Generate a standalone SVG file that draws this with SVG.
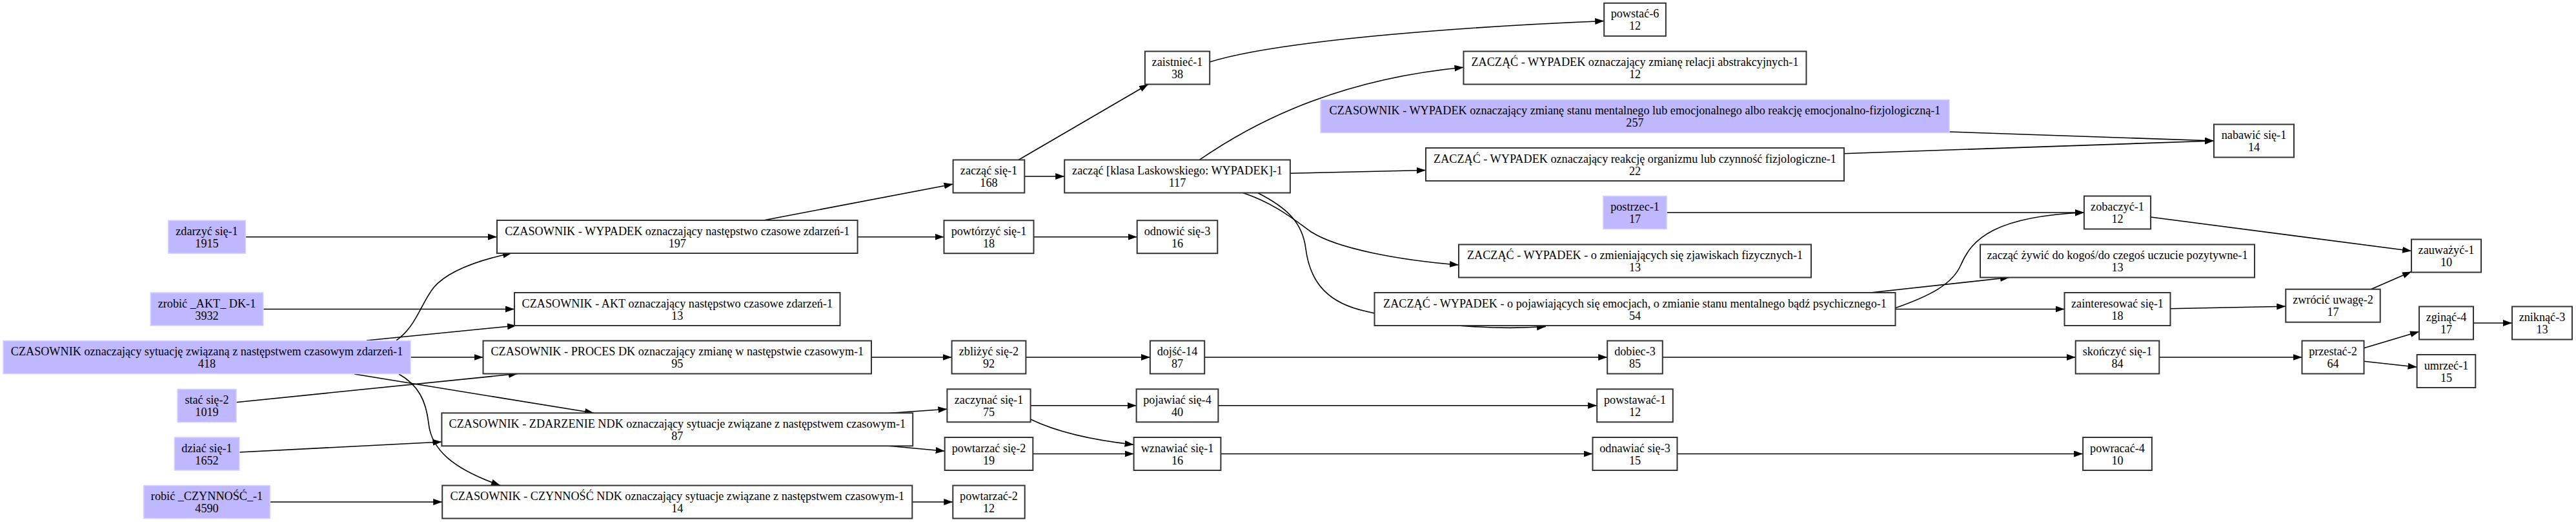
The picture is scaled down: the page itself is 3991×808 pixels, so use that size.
<svg xmlns="http://www.w3.org/2000/svg" width="3991" height="808" viewBox="0 0 3991 808">
<style>
.b{fill:#fff;stroke:#333;stroke-width:2}
.p{fill:#c0b8fe;stroke:#d8d2ff;stroke-width:1.5}
text{font-family:"Liberation Serif","Times New Roman",serif;font-size:18.2px;text-anchor:middle;fill:#000}
.e path{fill:none;stroke:#000;stroke-width:1.6;marker-end:url(#a)}
</style>
<defs>
<marker id="a" markerUnits="userSpaceOnUse" markerWidth="15" markerHeight="11" refX="14" refY="5" orient="auto">
<path d="M0,0 L14,5 L0,10 z" fill="#000"/>
</marker>
</defs>
<rect width="3991" height="808" fill="#fff"/>
<g class="e" id="connectors">
<path d="M380.3,366.7 H770"/>
<path d="M407.8,478.5 H797"/>
<path d="M614,527 C645,505 652,470 672,445 C695,418 745,402 793,391.7"/>
<path d="M568,527 L800,504"/>
<path d="M366,622.7 L802,578.5"/>
<path d="M636,553 H748.5"/>
<path d="M549,579 L920,639.3"/>
<path d="M370.8,700 L684.4,684"/>
<path d="M618,579 C648,596 660,620 664,655 C668,695 700,725 775,751.3"/>
<path d="M418.3,777 H685.2"/>
<path d="M1183,341 L1476.6,285"/>
<path d="M1328.6,366.7 H1462.5"/>
<path d="M1601.5,366.7 H1761.7"/>
<path d="M1578,247.5 L1779,130.5"/>
<path d="M1587.4,273 H1649.2"/>
<path d="M1874,96 C1990,60 2300,40 2485.2,32.5"/>
<path d="M1858,247.7 C1920,205 2050,125 2267.5,104.3"/>
<path d="M1998.9,268.3 L2208.9,263.5"/>
<path d="M1925,298.3 C1975,315 2005,340 2030,358 C2070,385 2170,403 2260,410"/>
<path d="M1948,298.3 C1995,322 2018,345 2023,385 C2030,440 2060,470 2117,482 C2190,500 2300,512 2395,505.5"/>
<path d="M2856.7,237.7 L3430,218"/>
<path d="M3019.7,204 L3430,218"/>
<path d="M2582.2,329 H3228.9"/>
<path d="M2936.5,476.7 C2990,458 3025,440 3038,410 C3055,370 3090,335 3228.9,329"/>
<path d="M2897.5,453 L3113,429.5"/>
<path d="M2936.5,478.5 H3198.5"/>
<path d="M3332,336 L3736,388.5"/>
<path d="M3362.5,477.7 L3541.3,474.3"/>
<path d="M3674,447.5 L3736,420.5"/>
<path d="M1350,553 H1474.6"/>
<path d="M1589.4,553 H1781.9"/>
<path d="M1866.2,553 H2490.2"/>
<path d="M2575.8,553 H3215.7"/>
<path d="M3345.3,553 H3566.5"/>
<path d="M3662.5,538.7 L3748,513.3"/>
<path d="M3662.5,559.3 L3744.6,568.3"/>
<path d="M3832,500 H3892"/>
<path d="M1377,639.5 L1467.4,633.3"/>
<path d="M1377,690.3 L1463.7,698.3"/>
<path d="M1596.6,627.8 H1760.6"/>
<path d="M1596.6,649 C1640,670 1700,682 1756.6,688.3"/>
<path d="M1600.3,702.5 H1756.6"/>
<path d="M1887.4,627.8 H2474.2"/>
<path d="M1891.4,702.5 H2467.5"/>
<path d="M2598.5,702.5 H3227.1"/>
<path d="M1413.4,777 H1476.3"/>
</g>
<g id="n_root"><rect class="p" x="5" y="527.5" width="631" height="51"/><text x="320.5" y="550">CZASOWNIK oznaczający sytuację związaną z następstwem czasowym zdarzeń-1</text><text x="320.5" y="569">418</text></g>
<g id="n_zdarzyc"><rect class="p" x="260.8" y="341.2" width="119.5" height="51"/><text x="320.5" y="363.7">zdarzyć się-1</text><text x="320.5" y="382.7">1915</text></g>
<g id="n_zrobic"><rect class="p" x="233.2" y="453" width="174.6" height="51"/><text x="320.5" y="475.5">zrobić _AKT_ DK-1</text><text x="320.5" y="494.5">3932</text></g>
<g id="n_stac"><rect class="p" x="275" y="602.5" width="91" height="51"/><text x="320.5" y="625">stać się-2</text><text x="320.5" y="644">1019</text></g>
<g id="n_dziac"><rect class="p" x="270.3" y="677" width="100.5" height="51"/><text x="320.5" y="699.5">dziać się-1</text><text x="320.5" y="718.5">1652</text></g>
<g id="n_robic"><rect class="p" x="222.8" y="751.5" width="195.5" height="51"/><text x="320.5" y="774">robić _CZYNNOŚĆ_-1</text><text x="320.5" y="793">4590</text></g>
<g id="n_czwyp"><rect class="b" x="770" y="341" width="558.6" height="51"/><text x="1049.3" y="363.5">CZASOWNIK - WYPADEK oznaczający następstwo czasowe zdarzeń-1</text><text x="1049.3" y="382.5">197</text></g>
<g id="n_czakt"><rect class="b" x="797" y="453" width="504.5" height="51"/><text x="1049.3" y="475.5">CZASOWNIK - AKT oznaczający następstwo czasowe zdarzeń-1</text><text x="1049.3" y="494.5">13</text></g>
<g id="n_czproc"><rect class="b" x="748.5" y="527.5" width="601.5" height="51"/><text x="1049.3" y="550">CZASOWNIK - PROCES DK oznaczający zmianę w następstwie czasowym-1</text><text x="1049.3" y="569">95</text></g>
<g id="n_czzd"><rect class="b" x="684.4" y="639.3" width="729.8" height="51"/><text x="1049.3" y="661.8">CZASOWNIK - ZDARZENIE NDK oznaczający sytuacje związane z następstwem czasowym-1</text><text x="1049.3" y="680.8">87</text></g>
<g id="n_czczyn"><rect class="b" x="685.2" y="751.5" width="728.1" height="51"/><text x="1049.3" y="774">CZASOWNIK - CZYNNOŚĆ NDK oznaczający sytuacje związane z następstwem czasowym-1</text><text x="1049.3" y="793">14</text></g>
<g id="n_zaczac_sie"><rect class="b" x="1476.6" y="247.5" width="110.7" height="51"/><text x="1532" y="270">zacząć się-1</text><text x="1532" y="289">168</text></g>
<g id="n_powtorzyc"><rect class="b" x="1462.5" y="341.2" width="139" height="51"/><text x="1532" y="363.7">powtórzyć się-1</text><text x="1532" y="382.7">18</text></g>
<g id="n_zblizyc"><rect class="b" x="1474.6" y="527.5" width="114.8" height="51"/><text x="1532" y="550">zbliżyć się-2</text><text x="1532" y="569">92</text></g>
<g id="n_zaczynac"><rect class="b" x="1467.4" y="602.3" width="129.2" height="51"/><text x="1532" y="624.8">zaczynać się-1</text><text x="1532" y="643.8">75</text></g>
<g id="n_powtarzac_sie"><rect class="b" x="1463.7" y="677" width="136.6" height="51"/><text x="1532" y="699.5">powtarzać się-2</text><text x="1532" y="718.5">19</text></g>
<g id="n_powtarzac"><rect class="b" x="1476.3" y="751.5" width="111.4" height="51"/><text x="1532" y="774">powtarzać-2</text><text x="1532" y="793">12</text></g>
<g id="n_klasa"><rect class="b" x="1649.2" y="247.5" width="349.7" height="51"/><text x="1824" y="270">zacząć [klasa Laskowskiego: WYPADEK]-1</text><text x="1824" y="289">117</text></g>
<g id="n_zaistniec"><rect class="b" x="1773.9" y="79.5" width="100.3" height="51"/><text x="1824" y="102">zaistnieć-1</text><text x="1824" y="121">38</text></g>
<g id="n_odnowic"><rect class="b" x="1761.7" y="341.2" width="124.6" height="51"/><text x="1824" y="363.7">odnowić się-3</text><text x="1824" y="382.7">16</text></g>
<g id="n_dojsc"><rect class="b" x="1781.9" y="527.5" width="84.3" height="51"/><text x="1824" y="550">dojść-14</text><text x="1824" y="569">87</text></g>
<g id="n_pojawiac"><rect class="b" x="1760.6" y="602.3" width="126.8" height="51"/><text x="1824" y="624.8">pojawiać się-4</text><text x="1824" y="643.8">40</text></g>
<g id="n_wznawiac"><rect class="b" x="1756.6" y="677" width="134.8" height="51"/><text x="1824" y="699.5">wznawiać się-1</text><text x="1824" y="718.5">16</text></g>
<g id="n_powstac"><rect class="b" x="2485.2" y="4.8" width="95.7" height="51"/><text x="2533" y="27.3">powstać-6</text><text x="2533" y="46.3">12</text></g>
<g id="n_zabs"><rect class="b" x="2267.5" y="79.5" width="531" height="51"/><text x="2533" y="102">ZACZĄĆ - WYPADEK oznaczający zmianę relacji abstrakcyjnych-1</text><text x="2533" y="121">12</text></g>
<g id="n_mental"><rect class="p" x="2046" y="154.5" width="974" height="51"/><text x="2533" y="177">CZASOWNIK - WYPADEK oznaczający zmianę stanu mentalnego lub emocjonalnego albo reakcję emocjonalno-fizjologiczną-1</text><text x="2533" y="196">257</text></g>
<g id="n_zreak"><rect class="b" x="2209" y="229" width="648" height="51"/><text x="2533" y="251.5">ZACZĄĆ - WYPADEK oznaczający reakcję organizmu lub czynność fizjologiczne-1</text><text x="2533" y="270.5">22</text></g>
<g id="n_postrzec"><rect class="p" x="2483.9" y="303.5" width="98.3" height="51"/><text x="2533" y="326">postrzec-1</text><text x="2533" y="345">17</text></g>
<g id="n_zfiz"><rect class="b" x="2260" y="378.5" width="546" height="51"/><text x="2533" y="401">ZACZĄĆ - WYPADEK - o zmieniających się zjawiskach fizycznych-1</text><text x="2533" y="420">13</text></g>
<g id="n_zpoj"><rect class="b" x="2129.5" y="453" width="807" height="51"/><text x="2533" y="475.5">ZACZĄĆ - WYPADEK - o pojawiających się emocjach, o zmianie stanu mentalnego bądź psychicznego-1</text><text x="2533" y="494.5">54</text></g>
<g id="n_dobiec"><rect class="b" x="2490.2" y="527.5" width="85.6" height="51"/><text x="2533" y="550">dobiec-3</text><text x="2533" y="569">85</text></g>
<g id="n_powstawac"><rect class="b" x="2474.2" y="602.3" width="117.6" height="51"/><text x="2533" y="624.8">powstawać-1</text><text x="2533" y="643.8">12</text></g>
<g id="n_odnawiac"><rect class="b" x="2467.5" y="677" width="131" height="51"/><text x="2533" y="699.5">odnawiać się-3</text><text x="2533" y="718.5">15</text></g>
<g id="n_nabawic"><rect class="b" x="3430" y="192.5" width="124" height="51"/><text x="3492" y="215">nabawić się-1</text><text x="3492" y="234">14</text></g>
<g id="n_zobaczyc"><rect class="b" x="3228.9" y="303.5" width="103.2" height="51"/><text x="3280.5" y="326">zobaczyć-1</text><text x="3280.5" y="345">12</text></g>
<g id="n_zywic"><rect class="b" x="3068" y="378.5" width="425" height="51"/><text x="3280.5" y="401">zacząć żywić do kogoś/do czegoś uczucie pozytywne-1</text><text x="3280.5" y="420">13</text></g>
<g id="n_zainter"><rect class="b" x="3198.5" y="453" width="164" height="51"/><text x="3280.5" y="475.5">zainteresować się-1</text><text x="3280.5" y="494.5">18</text></g>
<g id="n_skonczyc"><rect class="b" x="3215.7" y="527.5" width="129.6" height="51"/><text x="3280.5" y="550">skończyć się-1</text><text x="3280.5" y="569">84</text></g>
<g id="n_powracac"><rect class="b" x="3227.1" y="677" width="106.8" height="51"/><text x="3280.5" y="699.5">powracać-4</text><text x="3280.5" y="718.5">10</text></g>
<g id="n_zwrocic"><rect class="b" x="3541.3" y="447.7" width="146.4" height="51"/><text x="3614.5" y="470.2">zwrócić uwagę-2</text><text x="3614.5" y="489.2">17</text></g>
<g id="n_przestac"><rect class="b" x="3566.5" y="527.5" width="96" height="51"/><text x="3614.5" y="550">przestać-2</text><text x="3614.5" y="569">64</text></g>
<g id="n_zauwazyc"><rect class="b" x="3736" y="370.5" width="108" height="51"/><text x="3790" y="393">zauważyć-1</text><text x="3790" y="412">10</text></g>
<g id="n_zginac"><rect class="b" x="3748" y="474.5" width="84" height="51"/><text x="3790" y="497">zginąć-4</text><text x="3790" y="516">17</text></g>
<g id="n_umrzec"><rect class="b" x="3744.6" y="549" width="90.7" height="51"/><text x="3790" y="571.5">umrzeć-1</text><text x="3790" y="590.5">15</text></g>
<g id="n_zniknac"><rect class="b" x="3892" y="474.5" width="93" height="51"/><text x="3938.5" y="497">zniknąć-3</text><text x="3938.5" y="516">13</text></g>
</svg>
